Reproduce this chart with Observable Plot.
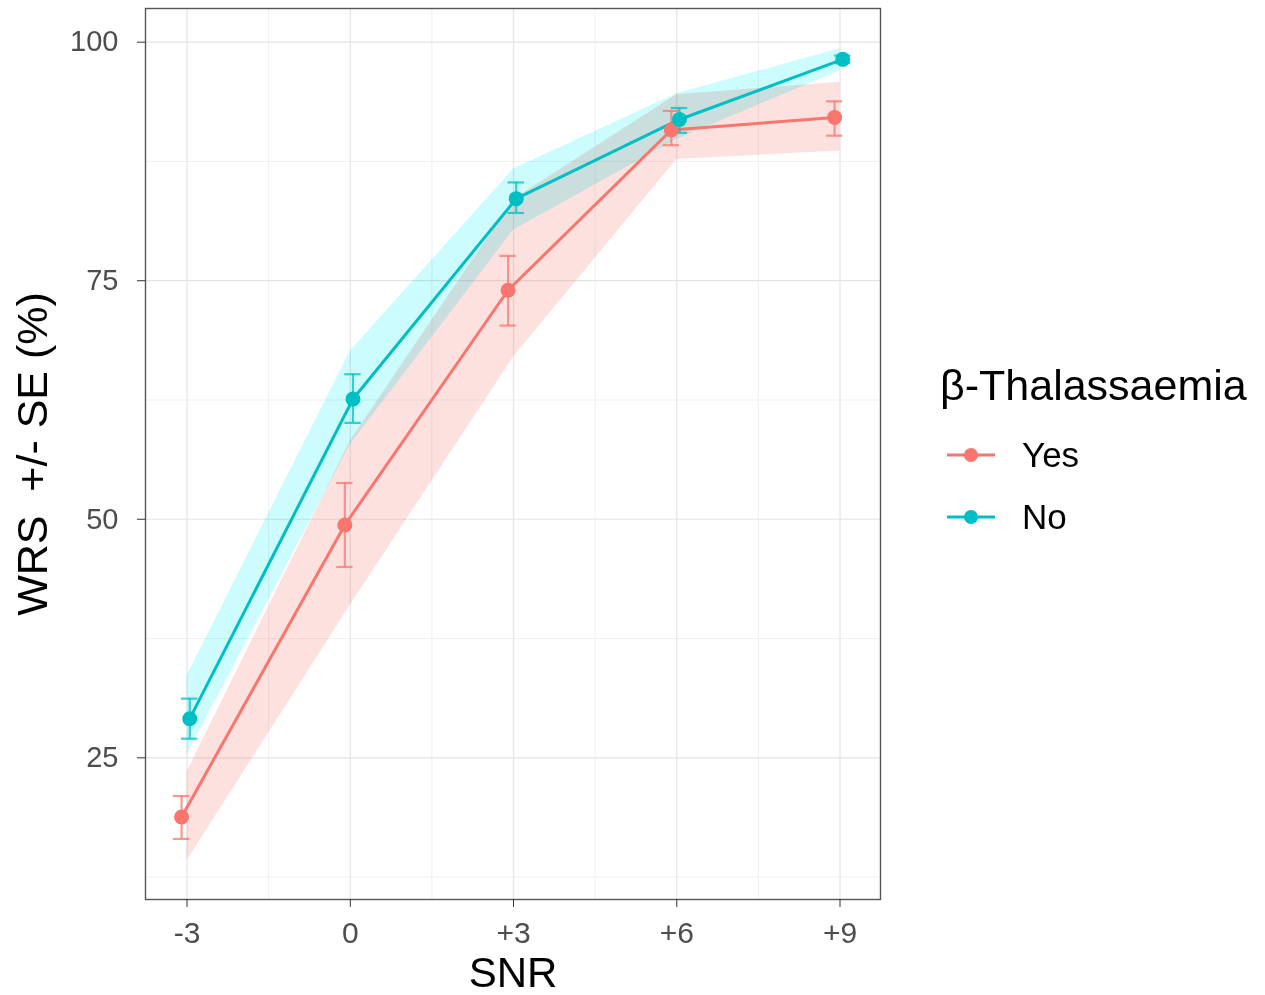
<!DOCTYPE html>
<html>
<head>
<meta charset="utf-8">
<script src="https://cdn.jsdelivr.net/npm/d3@7"></script>
<script src="https://cdn.jsdelivr.net/npm/@observablehq/plot@0.6"></script>
<style>
  html, body { margin: 0; padding: 0; background: #fff; }
  #wrap { position: relative; width: 1265px; height: 995px; font-family: "Liberation Sans", Arial, sans-serif; }
  #chart svg g[aria-label="x-axis tick label"], #chart svg g[aria-label="y-axis tick label"] { fill: #4d4d4d; }
  #legend { position: absolute; left: 0; top: 0; }
</style>
</head>
<body>
<div id="wrap"><div id="chart"></div><div id="legend"></div></div>
<script>
// ---- data ----
const snr = [-3, 0, 3, 6, 9];
const snrLabels = ["-3", "0", "+3", "+6", "+9"];
const groups = ["Yes", "No"];
const groupColors = ["#F8766D", "#00BFC4"];
const legendTitle = "β-Thalassaemia";
const xTitle = "SNR";
const yTitle = "WRS \u00a0+/- SE (%)";
const yTicks = [25, 50, 75, 100];
const yMinor = [12.5, 37.5, 62.5, 87.5];
const xMinor = [-1.5, 1.5, 4.5, 7.5];

const yesMean     = [18.8, 49.4, 74.0, 90.8, 92.1];
const yesSeLow    = [16.5, 45.0, 70.3, 89.2, 90.2];
const yesSeHigh   = [21.0, 53.8, 77.6, 92.8, 93.8];
const yesBandLow  = [14.2, 41.0, 67.0, 87.7, 88.6];
const yesBandHigh = [23.5, 58.2, 83.5, 94.5, 95.8];

const noMean      = [29.1, 62.6, 83.6, 91.9, 98.2];
const noSeLow     = [27.0, 60.1, 82.1, 90.5, 97.8];
const noSeHigh    = [31.2, 65.2, 85.3, 93.1, 98.6];
const noBandLow   = [25.3, 57.8, 80.3, 89.8, 97.0];
const noBandHigh  = [33.6, 67.6, 86.7, 94.6, 99.3];

// ---- table ----
function rowsFor(group, mean, seLow, seHigh, bandLow, bandHigh) {
  return snr.map((s, i) => ({snr: s, group, mean: mean[i], seLow: seLow[i], seHigh: seHigh[i], bandLow: bandLow[i], bandHigh: bandHigh[i]}));
}
const yesRows = rowsFor("Yes", yesMean, yesSeLow, yesSeHigh, yesBandLow, yesBandHigh);
const noRows = rowsFor("No", noMean, noSeLow, noSeHigh, noBandLow, noBandHigh);
const rows = yesRows.concat(noRows);

const dodge = {Yes: -0.1, No: 0.05};
const cap = 0.15;
const dx = d => d.snr + dodge[d.group];

const plot = Plot.plot({
  width: 1265,
  height: 995,
  marginLeft: 145,
  marginRight: 385,
  marginTop: 8,
  marginBottom: 96,
  style: {fontFamily: "'Liberation Sans', Arial, sans-serif", background: "#fff", overflow: "visible"},
  x: {type: "linear", domain: [-3.763, 9.744]},
  y: {domain: [10.15, 103.53]},
  color: {domain: groups, range: groupColors},
  marks: [
    Plot.gridY(yMinor, {stroke: "#ebebeb", strokeOpacity: 1, strokeWidth: 0.8}),
    Plot.gridX(xMinor, {stroke: "#ebebeb", strokeOpacity: 1, strokeWidth: 0.8}),
    Plot.gridY(yTicks, {stroke: "#e4e4e4", strokeOpacity: 1, strokeWidth: 1.2}),
    Plot.gridX(snr, {stroke: "#e4e4e4", strokeOpacity: 1, strokeWidth: 1.2}),
    Plot.areaY(yesRows, {x: "snr", y1: "bandLow", y2: "bandHigh", fill: "#F8766D", fillOpacity: 0.22}),
    Plot.areaY(noRows, {x: "snr", y1: "bandLow", y2: "bandHigh", fill: "#00EEF4", fillOpacity: 0.2, mixBlendMode: "multiply"}),
    Plot.line(rows, {x: dx, y: "mean", stroke: "group", z: "group", strokeWidth: 3}),
    Plot.ruleX(rows, {x: dx, y1: "seLow", y2: "seHigh", stroke: "group", strokeWidth: 2.2, strokeOpacity: 0.75}),
    Plot.ruleY(rows, {y: "seHigh", x1: d => dx(d) - cap, x2: d => dx(d) + cap, stroke: "group", strokeWidth: 2.2, strokeOpacity: 0.75}),
    Plot.ruleY(rows, {y: "seLow", x1: d => dx(d) - cap, x2: d => dx(d) + cap, stroke: "group", strokeWidth: 2.2, strokeOpacity: 0.75}),
    Plot.dot(rows, {x: dx, y: "mean", fill: "group", r: 7.5}),
    Plot.frame({stroke: "#555", strokeWidth: 1.4}),
    Plot.axisX(snr, {tickFormat: d => snrLabels[snr.indexOf(d)], tickSize: 8, tickPadding: 14, fontSize: 30, stroke: "#333", label: null}),
    Plot.axisY(yTicks, {tickSize: 8, tickPadding: 19, fontSize: 29, stroke: "#333", label: null}),
    Plot.text([xTitle], {frameAnchor: "bottom", dy: 74, lineAnchor: "middle", textAnchor: "middle", fontSize: 42, fill: "#000"}),
    Plot.text([yTitle], {frameAnchor: "left", dx: -112, rotate: -90, lineAnchor: "middle", textAnchor: "middle", fontSize: 43, fill: "#000"})
  ]
});
document.getElementById("chart").appendChild(plot);

// ---- legend ----
const lg = d3.select("#legend").append("svg")
  .attr("width", 1265).attr("height", 995)
  .style("font-family", "'Liberation Sans', Arial, sans-serif")
  .style("pointer-events", "none");
lg.append("text").attr("x", 940).attr("y", 400).attr("font-size", 43).attr("fill", "#000").text(legendTitle);
groups.forEach((g, i) => {
  const y = 455 + i * 62;
  lg.append("line").attr("x1", 947).attr("x2", 995).attr("y1", y).attr("y2", y)
    .attr("stroke", groupColors[i]).attr("stroke-width", 3);
  lg.append("circle").attr("cx", 971).attr("cy", y).attr("r", 7).attr("fill", groupColors[i]);
  lg.append("text").attr("x", 1022).attr("y", y + 12).attr("font-size", 35).attr("fill", "#000").text(g);
});
</script>
</body>
</html>
